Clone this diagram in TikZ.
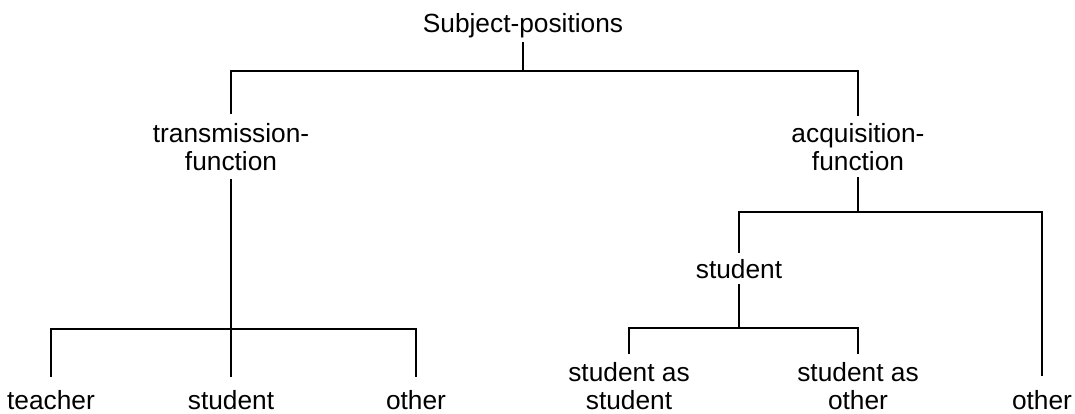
\documentclass[tikz,border=0pt]{standalone}
\usepackage{fontspec}
\setmainfont{Liberation Sans}
\begin{document}
\begin{tikzpicture}[x=1pt,y=1pt,
  lab/.style={font=\fontsize{26.3}{28}\selectfont, anchor=base, inner xsep=0pt, inner ysep=9pt, align=center},
  lowlab/.style={lab, inner ysep=14pt},
  conn/.style={line width=2.4pt, line cap=rect, line join=miter}]
\useasboundingbox (0,0) rectangle (1075,413);
% nodes
\node[lab, inner ysep=4.5pt] (root) at (523,380) {Subject-positions};
\node[lab, inner ysep=10pt] (tr) at (231,243) {transmission-\\function};
\node[lab, inner ysep=8pt] (acq) at (858,243) {acquisition-\\function};
\node[lowlab] (teacher) at (51,4) {teacher};
\node[lowlab] (tstudent) at (231,4) {student};
\node[lowlab] (tother) at (416,4) {other};
\node[lab, inner ysep=7pt] (astudent) at (739,135) {student};
\node[lab] (sas) at (629,4) {student as\\student};
\node[lab] (sao) at (858,4) {student as\\other};
\node[lowlab, inner ysep=15pt] (aother) at (1042,4) {other};
% junctions
\coordinate (j0) at (523,342);
\coordinate (j1) at (231,84);
\coordinate (j2) at (858,201);
\coordinate (j3) at (739,85);
% connectors
\draw[conn] (root.south) -- (j0);
\draw[conn] (tr.north) |- (j0) -| (acq.north);
\draw[conn] (tr.south) -- (tstudent.north);
\draw[conn] (teacher.north) |- (j1) -| (tother.north);
\draw[conn] (acq.south) -- (j2);
\draw[conn] (astudent.north) |- (j2) -| (aother.north);
\draw[conn] (astudent.south) -- (j3);
\draw[conn] (sas.north) |- (j3) -| (sao.north);
\end{tikzpicture}
\end{document}
